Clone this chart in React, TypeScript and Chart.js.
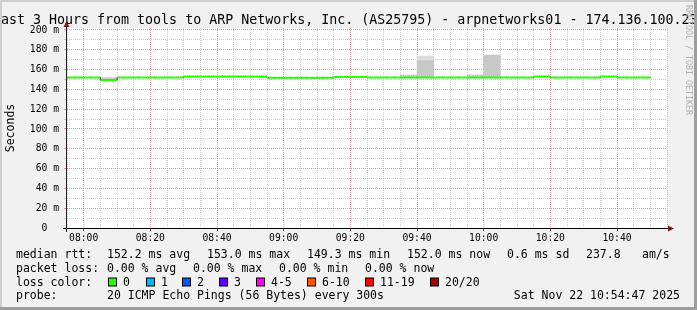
import { useEffect, useRef } from 'react';
import { Chart, registerables } from 'chart.js';

Chart.register(...registerables);

// ---- data ----
const slots = [
  '07:55', '08:00', '08:05', '08:10', '08:15', '08:20', '08:25', '08:30', '08:35', '08:40', '08:45', '08:50',
  '08:55', '09:00', '09:05', '09:10', '09:15', '09:20', '09:25', '09:30', '09:35', '09:40', '09:45', '09:50',
  '09:55', '10:00', '10:05', '10:10', '10:15', '10:20', '10:25', '10:30', '10:35', '10:40', '10:45',
];
const medianRtt = [
  152.0, 152.0, 149.3, 152.0, 152.0, 152.0, 152.0, 153.0, 153.0, 152.9, 153.0, 152.9,
  151.8, 151.8, 151.8, 151.8, 152.6, 152.6, 152.0, 152.0, 152.0, 152.0, 152.0, 152.0,
  152.0, 152.0, 152.0, 152.0, 153.0, 152.0, 152.0, 152.0, 153.0, 152.0, 152.0,
];
const smokeLow = [
  null, null, 149.3, null, null, null, null, null, null, null, null, null,
  null, null, null, null, null, null, null, null, 151.5, 151.5, null, null,
  151.5, 151.5, null, null, null, null, null, null, null, null, null,
];
const smokeMid = [
  null, null, 151.8, null, null, null, null, null, null, null, null, null,
  null, null, null, null, null, null, null, null, 154.5, 169.7, null, null,
  154.5, 174.7, null, null, null, null, null, null, null, null, null,
];
const smokeHigh = [
  null, null, null, null, null, null, null, null, null, null, null, null,
  null, null, null, null, null, null, null, null, null, 173.7, null, null,
  null, null, null, null, null, null, null, null, null, null, null,
];
const xTickLabels = ['08:00', '08:20', '08:40', '09:00', '09:20', '09:40', '10:00', '10:20', '10:40'];
const yTickLabels = ['0', '20 m', '40 m', '60 m', '80 m', '100 m', '120 m', '140 m', '160 m', '180 m', '200 m'];

const TITLE = 'Last 3 Hours from tools to ARP Networks, Inc. (AS25795) - arpnetworks01 - 174.136.100.23';
const rttStats = ['152.2 ms avg', '153.0 ms max', '149.3 ms min', '152.0 ms now', '0.6 ms sd', '237.8', 'am/s'];
const lossStats = ['0.00 % avg', '0.00 % max', '0.00 % min', '0.00 % now'];
const lossBuckets = ['0', '1', '2', '3', '4-5', '6-10', '11-19', '20/20'];
const lossColors = ['#26ff00', '#00b8ff', '#0059ff', '#5e00ff', '#ff00ff', '#ff5500', '#ff0000', '#a10000'];
const probeText = '20 ICMP Echo Pings (56 Bytes) every 300s';
const dateText = 'Sat Nov 22 10:54:47 2025';
const WATERMARK = 'RRDTOOL / TOBI OETIKER';

// ---- helpers ----
const toMin = (s: string) => {
  const [h, m] = s.split(':').map(Number);
  return h * 60 + m;
};
const fmt = (v: number) =>
  `${String(Math.floor(v / 60)).padStart(2, '0')}:${String(v % 60).padStart(2, '0')}`;
const STEP = 5;
const X_MIN = toMin(slots[0]);
const X_MAX = X_MIN + 180;
const Y_MAX = 202;

const MONO = 'DejaVu Sans Mono, monospace';
const MAJOR = 'rgba(222,80,80,0.55)';
const MINOR = 'rgba(143,143,143,0.4)';

const framePlugin = {
  id: 'rrdframe',
  beforeDraw(chart: any) {
    const { ctx, width, height, chartArea: a } = chart;
    ctx.save();
    ctx.fillStyle = '#f1f1f1';
    ctx.fillRect(0, 0, width, height);
    ctx.fillStyle = '#ffffff';
    ctx.fillRect(a.left, a.top, a.right - a.left, a.bottom - a.top);
    ctx.restore();
  },
  afterDraw(chart: any) {
    const { ctx, width, height, chartArea: a } = chart;
    ctx.save();
    // axes
    ctx.lineWidth = 1;
    ctx.strokeStyle = '#000000';
    ctx.beginPath();
    ctx.moveTo(a.left - 4, a.bottom + 0.5);
    ctx.lineTo(a.right + 2, a.bottom + 0.5);
    ctx.stroke();
    ctx.strokeStyle = '#202020';
    ctx.beginPath();
    ctx.moveTo(a.left - 0.5, a.bottom + 4);
    ctx.lineTo(a.left - 0.5, a.top - 3);
    ctx.stroke();
    // arrows
    ctx.fillStyle = '#7f1a1a';
    ctx.beginPath();
    ctx.moveTo(a.right + 7, a.bottom + 0.5);
    ctx.lineTo(a.right + 1, a.bottom - 2.5);
    ctx.lineTo(a.right + 1, a.bottom + 3.5);
    ctx.closePath();
    ctx.fill();
    ctx.beginPath();
    ctx.moveTo(a.left - 0.5, a.top - 7);
    ctx.lineTo(a.left - 3.5, a.top - 1);
    ctx.lineTo(a.left + 2.5, a.top - 1);
    ctx.closePath();
    ctx.fill();

    // title
    ctx.fillStyle = '#000000';
    ctx.font = `13.3px ${MONO}`;
    ctx.textAlign = 'left';
    ctx.textBaseline = 'alphabetic';
    ctx.fillText(TITLE, -7, 24);

    // y axis label
    ctx.save();
    ctx.font = `11.5px ${MONO}`;
    ctx.translate(11, (a.top + a.bottom) / 2);
    ctx.rotate(-Math.PI / 2);
    ctx.textAlign = 'center';
    ctx.textBaseline = 'middle';
    ctx.fillText('Seconds', 0, 0);
    ctx.restore();

    // watermark
    ctx.save();
    ctx.font = `8.3px ${MONO}`;
    ctx.fillStyle = '#b0b0b0';
    ctx.translate(688.5, 5);
    ctx.rotate(Math.PI / 2);
    ctx.textAlign = 'left';
    ctx.textBaseline = 'middle';
    ctx.fillText(WATERMARK, 0, 0);
    ctx.restore();

    // legend
    ctx.font = `11.5px ${MONO}`;
    ctx.fillStyle = '#000000';
    ctx.textAlign = 'left';
    ctx.textBaseline = 'alphabetic';
    const rows = [257.8, 271.6, 285.5, 299.3];
    ctx.fillText('median rtt:', 16, rows[0]);
    const rttX = [107, 207, 307, 407, 507, 586, 642];
    rttStats.forEach((t, i) => ctx.fillText(t, rttX[i], rows[0]));
    ctx.fillText('packet loss:', 16, rows[1]);
    const lossX = [107, 193, 279, 365];
    lossStats.forEach((t, i) => ctx.fillText(t, lossX[i], rows[1]));
    ctx.fillText('loss color:', 16, rows[2]);
    const boxX = [108, 146, 182, 219, 256, 307, 365, 430];
    lossBuckets.forEach((t, i) => {
      ctx.fillStyle = lossColors[i];
      ctx.fillRect(boxX[i] + 0.5, rows[2] - 7.5, 8, 8);
      ctx.strokeStyle = '#000000';
      ctx.strokeRect(boxX[i] + 0.5, rows[2] - 7.5, 8, 8);
      ctx.fillStyle = '#000000';
      ctx.fillText(t, boxX[i] + 15, rows[2]);
    });
    ctx.fillText('probe:', 16, rows[3]);
    ctx.fillText(probeText, 107, rows[3]);
    ctx.textAlign = 'right';
    ctx.fillText(dateText, 680, rows[3]);

    // 3D frame
    ctx.fillStyle = '#cfcfcf';
    ctx.fillRect(0, 0, width, 2);
    ctx.fillRect(0, 0, 2, height);
    ctx.fillStyle = '#9e9e9e';
    ctx.fillRect(0, height - 3, width, 3);
    ctx.fillRect(width - 3, 0, 3, height);
    ctx.restore();
  },
};

export default function App() {
  const ref = useRef<HTMLCanvasElement | null>(null);

  useEffect(() => {
    document.body.style.margin = '0';
    const canvas = ref.current;
    if (!canvas) return;

    const catLabels: string[] = [];
    for (let t = X_MIN; t < X_MAX; t += STEP) catLabels.push(fmt(t));

    const greenPts: { x: number; y: number | null }[] = [];
    slots.forEach((s, i) => {
      const t = toMin(s);
      greenPts.push({ x: t, y: medianRtt[i] }, { x: t + STEP, y: medianRtt[i] }, { x: t + STEP, y: null });
    });
    const stepPts = slots.map((s, i) => ({ x: toMin(s), y: medianRtt[i] }));
    stepPts.push({ x: toMin(slots[slots.length - 1]) + STEP, y: medianRtt[medianRtt.length - 1] });

    const smokeDark = slots.map((_, i) =>
      smokeLow[i] != null && smokeMid[i] != null ? [smokeLow[i] as number, smokeMid[i] as number] : null,
    );
    const smokeLight = slots.map((_, i) =>
      smokeMid[i] != null && smokeHigh[i] != null ? [smokeMid[i] as number, smokeHigh[i] as number] : null,
    );

    const xTickVals = xTickLabels.map(toMin);

    const chart = new Chart(canvas, {
      type: 'line',
      data: {
        datasets: [
          {
            type: 'line',
            label: 'loss 0',
            data: greenPts,
            xAxisID: 'x',
            borderColor: '#26ff00',
            borderWidth: 2,
            pointRadius: 0,
            spanGaps: false,
            order: 0,
          },
          {
            type: 'line',
            label: 'median',
            data: stepPts,
            xAxisID: 'x',
            borderColor: '#202020',
            borderWidth: 1,
            pointRadius: 0,
            stepped: 'before',
            order: 1,
          },
          {
            type: 'bar',
            label: 'smoke light',
            data: smokeLight as any,
            xAxisID: 'xc',
            backgroundColor: '#dcdcdc',
            borderWidth: 0,
            barPercentage: 1,
            categoryPercentage: 1,
            grouped: false,
            order: 2,
          },
          {
            type: 'bar',
            label: 'smoke',
            data: smokeDark as any,
            xAxisID: 'xc',
            backgroundColor: '#c8c8c8',
            borderWidth: 0,
            barPercentage: 1,
            categoryPercentage: 1,
            grouped: false,
            order: 3,
          },
        ] as any,
      },
      options: {
        animation: false,
        responsive: false,
        devicePixelRatio: 1,
        events: [],
        layout: { padding: { top: 28, right: 30, bottom: 62, left: 0 } },
        plugins: { legend: { display: false }, tooltip: { enabled: false }, title: { display: false } },
        scales: {
          x: {
            type: 'linear',
            position: 'bottom',
            min: X_MIN,
            max: X_MAX,
            afterFit: (s: any) => {
              s.height = 20;
            },
            border: { display: false, dash: [1, 1] },
            grid: {
              color: (c: any) => (c.tick && c.tick.value % 20 === 0 ? MAJOR : MINOR),
              tickColor: (c: any) => (c.tick && c.tick.value % 20 === 0 ? '#606060' : 'rgba(0,0,0,0)'),
              tickLength: 3,
              lineWidth: 1,
            },
            ticks: {
              stepSize: STEP,
              autoSkip: false,
              includeBounds: false,
              maxRotation: 0,
              minRotation: 0,
              padding: 2,
              color: '#000000',
              font: { family: MONO, size: 9.7 },
              callback: (v: any) => {
                const k = xTickVals.indexOf(Number(v));
                return k >= 0 ? xTickLabels[k] : '';
              },
            },
          },
          xc: {
            type: 'category',
            axis: 'x',
            position: 'bottom',
            labels: catLabels,
            offset: true,
            display: false,
            grid: { offset: true },
          },
          y: {
            type: 'linear',
            min: 0,
            max: Y_MAX,
            afterFit: (s: any) => {
              s.width = 67;
            },
            border: { display: false, dash: [1, 1] },
            grid: {
              color: (c: any) => (c.tick && c.tick.value % 20 === 0 ? MAJOR : MINOR),
              tickColor: (c: any) => (c.tick && c.tick.value % 20 === 0 ? MAJOR : MINOR),
              tickLength: 3,
              lineWidth: 1,
            },
            ticks: {
              stepSize: 10,
              includeBounds: false,
              autoSkip: false,
              padding: 5,
              color: '#000000',
              font: { family: MONO, size: 9.7 },
              callback: (v: any) => {
                const n = Number(v);
                if (n % 20 !== 0) return '';
                const lab = yTickLabels[n / 20];
                if (!lab) return '';
                return lab.includes(' ') ? lab : lab + '  ';
              },
            },
          },
        } as any,
      },
      plugins: [framePlugin],
    });

    return () => chart.destroy();
  }, []);

  return (
    <div style={{ width: 697, height: 310 }}>
      <canvas ref={ref} width={697} height={310} style={{ display: 'block', width: 697, height: 310 }} />
    </div>
  );
}
